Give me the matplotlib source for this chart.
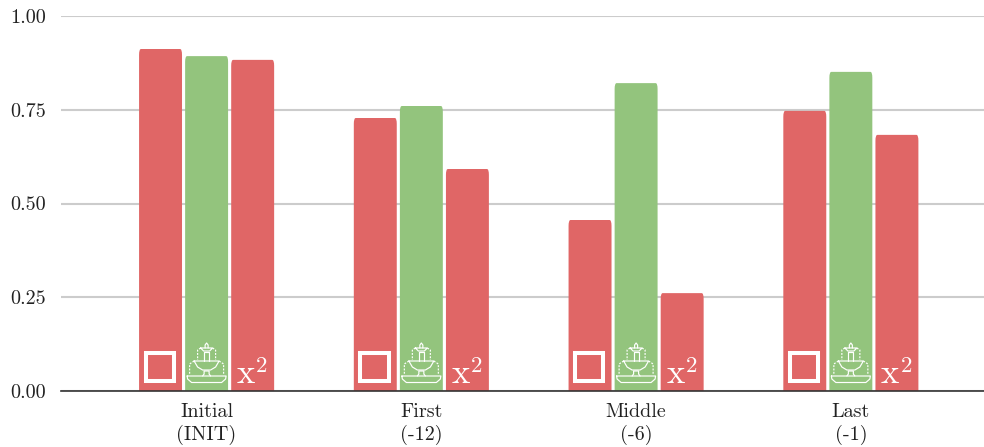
import matplotlib
matplotlib.use("Agg")
import matplotlib.pyplot as plt
from matplotlib.patches import FancyBboxPatch, Rectangle
from matplotlib.transforms import Affine2D

plt.rcParams['font.family'] = ['cmr10', 'DejaVu Serif']
plt.rcParams['axes.formatter.use_mathtext'] = True
plt.rcParams['mathtext.fontset'] = 'cm'

# Data
groups = ["Initial\n(INIT)", "First\n(-12)", "Middle\n(-6)", "Last\n(-1)"]
square_vals = [0.912, 0.728, 0.456, 0.747]
fountain_vals = [0.893, 0.760, 0.821, 0.851]
power_vals = [0.883, 0.592, 0.261, 0.683]
y_ticks = [0.0, 0.25, 0.5, 0.75, 1.0]

RED = "#e06666"
GREEN = "#93c47d"
GRID = "#cccccc"

W, H = 984, 447
fig = plt.figure(figsize=(W / 100, H / 100), dpi=100)
ax = fig.add_axes([61 / W, (H - 391) / H, (W - 61) / W, 375 / H])
ax.set_xlim(-0.678, 3.62)
ax.set_ylim(0, 1)

bar_w = 0.2
step = 0.2145
# px per data unit, so the corners come out round
aspect = (375 / 1.0) / (923 / 4.298)


def bar(x, v, color):
    ax.add_patch(FancyBboxPatch((x - bar_w / 2, -0.02), bar_w, v + 0.02,
                                boxstyle="round,pad=0,rounding_size=0.009",
                                mutation_aspect=aspect, fc=color, ec="none",
                                zorder=3))


def icon_tf(x):
    # icon units are pixels, origin on the baseline below the bar centre, y up
    px, py = ax.transData.transform((x, 0))
    return Affine2D().translate(px, py)


def draw_square(x):
    ax.add_patch(Rectangle((-15, 10), 28.3, 28.3, fc="none", ec="white", lw=2.9,
                           joinstyle="miter", transform=icon_tf(x),
                           clip_on=False, zorder=4))


def line(x, pts, ls="-", lw=0.85):
    xs, ys = zip(*pts)
    ax.plot(xs, ys, color="white", lw=lw, ls=ls, transform=icon_tf(x),
            clip_on=False, zorder=4, solid_capstyle="round",
            dash_capstyle="butt")


def draw_fountain(x):
    dash = (0, (1.6, 1.2))
    # base basin
    line(x, [(-19.5, 15), (19.5, 15), (19, 12), (15, 8.5), (-15, 8.5), (-19, 12), (-19.5, 15)])
    # stem
    line(x, [(-4, 15), (-2.5, 17), (-2.5, 20), (2.5, 20), (2.5, 17), (4, 15)])
    # lower bowl
    line(x, [(-12.5, 30), (12.5, 30), (9, 24), (4, 21), (-4, 21), (-9, 24), (-12.5, 30)])
    # upper stem and bowl
    line(x, [(-2.5, 30), (-2.5, 39), (2.5, 39), (2.5, 30)])
    line(x, [(-6, 43), (6, 43), (3, 40), (-3, 40), (-6, 43)])
    line(x, [(-1.5, 43), (-1.5, 46), (0, 48), (1.5, 46), (1.5, 43)])
    # dashed water
    line(x, [(-6, 43), (-9, 41), (-9, 31)], ls=dash)
    line(x, [(6, 43), (9, 41), (9, 31)], ls=dash)
    line(x, [(-12.5, 30), (-17, 27), (-17, 16)], ls=dash)
    line(x, [(12.5, 30), (17, 27), (17, 16)], ls=dash)


for i in range(len(groups)):
    bar(i - step, square_vals[i], RED)
    bar(i, fountain_vals[i], GREEN)
    bar(i + step, power_vals[i], RED)
    draw_square(i - step)
    draw_fountain(i)
    tf = icon_tf(i + step)
    ax.text(-16, 8, "x", color="white", fontsize=25, ha="left", va="baseline",
            transform=tf, zorder=5)
    ax.text(3.5, 19, "2", color="white", fontsize=16.5, ha="left", va="baseline",
            transform=tf, zorder=5)

ax.set_yticks(y_ticks)
ax.set_yticklabels(["%.2f" % t for t in y_ticks])
ax.set_xticks(range(len(groups)))
ax.set_xticklabels(groups, linespacing=1.2)
ax.tick_params(axis="both", length=0, labelsize=14.5, labelcolor="#222222")
ax.tick_params(axis="x", pad=9)
ax.tick_params(axis="y", pad=11)
ax.grid(axis="y", color=GRID, lw=1.5, zorder=1)
ax.set_axisbelow(True)
for s in ["top", "left", "right"]:
    ax.spines[s].set_visible(False)
ax.spines["bottom"].set_color("#333333")
ax.spines["bottom"].set_linewidth(1.2)
ax.spines["bottom"].set_zorder(6)

fig.savefig("out.png", dpi=100)
